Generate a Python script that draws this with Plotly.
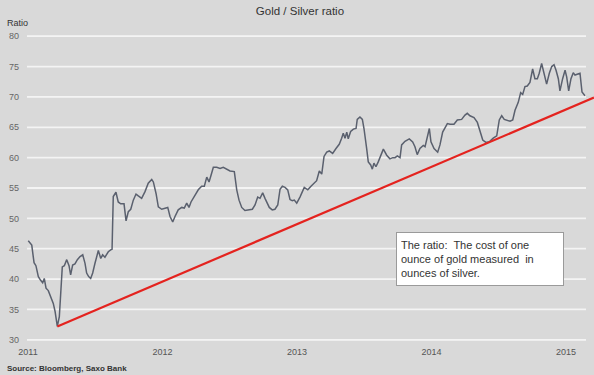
import plotly.graph_objects as go

# Gold / Silver ratio (decimal year, ratio)
years = [
    2011.002, 2011.028, 2011.039, 2011.045, 2011.059, 2011.077, 2011.094, 2011.109, 2011.121, 2011.134,
    2011.151, 2011.169, 2011.188, 2011.201, 2011.218, 2011.233, 2011.255, 2011.270, 2011.288, 2011.305,
    2011.317, 2011.332, 2011.349, 2011.367, 2011.387, 2011.407, 2011.424, 2011.436, 2011.451, 2011.466,
    2011.481, 2011.498, 2011.523, 2011.541, 2011.555, 2011.572, 2011.597, 2011.615, 2011.625, 2011.634,
    2011.654, 2011.671, 2011.689, 2011.714, 2011.729, 2011.746, 2011.764, 2011.783, 2011.803, 2011.820,
    2011.845, 2011.870, 2011.894, 2011.920, 2011.932, 2011.952, 2011.969, 2011.994,
    2012.019, 2012.039, 2012.056, 2012.076, 2012.093, 2012.117, 2012.143, 2012.162, 2012.180, 2012.197,
    2012.212, 2012.236, 2012.266, 2012.291, 2012.311, 2012.329, 2012.346, 2012.361, 2012.378, 2012.403,
    2012.428, 2012.452, 2012.477, 2012.502, 2012.534, 2012.552, 2012.569, 2012.589, 2012.613, 2012.638,
    2012.668, 2012.688, 2012.708, 2012.725, 2012.745, 2012.762, 2012.775, 2012.794, 2012.816, 2012.836,
    2012.857, 2012.874, 2012.891, 2012.911, 2012.931, 2012.948, 2012.965, 2012.980, 2012.998,
    2013.022, 2013.054, 2013.080, 2013.104, 2013.129, 2013.146, 2013.166, 2013.184, 2013.201, 2013.221,
    2013.240, 2013.265, 2013.290, 2013.314, 2013.332, 2013.344, 2013.357, 2013.370, 2013.381, 2013.399,
    2013.419, 2013.439, 2013.448, 2013.468, 2013.486, 2013.498, 2013.518, 2013.530, 2013.548, 2013.560,
    2013.572, 2013.587, 2013.604, 2013.622, 2013.642, 2013.667, 2013.691, 2013.712, 2013.729, 2013.746,
    2013.766, 2013.778, 2013.803, 2013.835, 2013.860, 2013.877, 2013.894, 2013.914, 2013.939, 2013.952,
    2013.969, 2013.984, 2013.996,
    2014.019, 2014.046, 2014.063, 2014.083, 2014.100, 2014.118, 2014.138, 2014.167, 2014.192, 2014.224,
    2014.249, 2014.266, 2014.286, 2014.316, 2014.341, 2014.361, 2014.381, 2014.405, 2014.430, 2014.459,
    2014.485, 2014.504, 2014.522, 2014.541, 2014.564, 2014.584, 2014.604, 2014.621, 2014.645, 2014.663,
    2014.678, 2014.695, 2014.712, 2014.732, 2014.752, 2014.769, 2014.787, 2014.801, 2014.819, 2014.836,
    2014.856, 2014.876, 2014.894, 2014.911, 2014.926, 2014.943, 2014.955, 2014.975, 2014.993,
    2015.005, 2015.020, 2015.037, 2015.054, 2015.067, 2015.084, 2015.104, 2015.119, 2015.141,
]
ratio = [
    46.3, 45.6, 43.7, 42.7, 42.2, 40.4, 39.8, 39.4, 40.1, 38.5,
    38.1, 37.1, 36.0, 34.7, 32.2, 33.8, 42.0, 42.2, 43.2, 42.2,
    40.7, 42.3, 42.5, 43.2, 43.7, 44.0, 42.6, 41.0, 40.4, 40.1,
    41.0, 42.6, 44.7, 43.4, 44.0, 43.6, 44.5, 44.8, 44.9, 53.6,
    54.3, 52.7, 52.4, 52.4, 49.6, 51.1, 51.5, 53.0, 54.0, 53.7,
    53.3, 54.4, 55.8, 56.4, 56.0, 54.1, 51.9, 51.5,
    51.7, 51.8, 50.3, 49.4, 50.3, 51.4, 51.8, 51.7, 52.5, 51.8,
    52.7, 53.7, 54.7, 55.3, 55.3, 56.8, 56.0, 57.1, 58.4, 58.4,
    58.2, 58.4, 58.1, 57.8, 57.7, 54.7, 53.0, 51.8, 51.3, 51.4,
    51.5, 52.2, 53.5, 53.3, 54.2, 53.3, 52.7, 51.8, 51.4, 51.5,
    52.2, 54.8, 55.3, 55.1, 54.7, 53.1, 52.9, 53.0, 52.5,
    53.5, 55.1, 54.7, 55.3, 55.9, 56.2, 57.8, 57.3, 60.2, 60.9,
    61.1, 60.7, 61.5, 62.2, 63.2, 64.0, 63.2, 64.2, 63.1, 64.3,
    64.7, 64.8, 66.3, 66.7, 66.3, 64.8, 61.5, 59.3, 58.8, 58.1,
    59.1, 58.5, 59.3, 60.4, 61.4, 60.4, 59.8, 60.0, 60.0, 60.3,
    60.0, 62.1, 62.7, 63.1, 62.6, 61.8, 60.5, 61.5, 62.0, 61.8,
    63.7, 64.8, 62.6,
    61.5, 60.9, 62.1, 64.2, 64.8, 65.6, 65.5, 65.5, 66.2, 66.3,
    67.0, 67.3, 66.9, 66.6, 65.8, 64.2, 62.9, 62.5, 62.6, 63.2,
    63.6, 66.2, 66.9, 66.3, 66.2, 66.0, 66.2, 67.8, 69.1, 70.7,
    70.4, 71.7, 71.8, 72.4, 74.6, 73.0, 73.0, 73.9, 75.5, 73.9,
    72.1, 73.9, 75.0, 75.3, 74.4, 73.0, 71.0, 73.0, 74.4,
    73.3, 71.0, 73.0, 74.0, 73.6, 73.7, 73.9, 70.8, 70.2,
]

# Red support line
trend_years = [2011.218, 2015.208]
trend_ratio = [32.2, 69.9]

year_ticks = [2011, 2012, 2013, 2014, 2015]
year_labels = ["2011", "2012", "2013", "2014", "2015"]
ratio_ticks = [30, 35, 40, 45, 50, 55, 60, 65, 70, 75, 80]

BG = "#d9d9d9"
FONT = "Liberation Sans"

fig = go.Figure()
fig.add_trace(go.Scatter(
    x=years, y=ratio, mode="lines",
    line=dict(color="#5a606e", width=1.5), hoverinfo="skip", showlegend=False,
))
fig.add_trace(go.Scatter(
    x=trend_years, y=trend_ratio, mode="lines",
    line=dict(color="#e4231f", width=2.2), hoverinfo="skip", showlegend=False,
))

grid_end = (586 - 27) / 567
for v in ratio_ticks:
    fig.add_shape(type="line", xref="paper", yref="y", x0=0, x1=grid_end, y0=v, y1=v,
                  line=dict(color="#f4f4f4", width=1.8), layer="below")

fig.update_layout(
    width=594, height=375,
    margin=dict(l=27, r=0, t=35, b=34),
    paper_bgcolor=BG, plot_bgcolor=BG,
    font=dict(family=FONT, color="#555555", size=9),
    title=dict(text="Gold / Silver ratio", x=0.505, xanchor="center", y=0.972, yanchor="middle",
               font=dict(family=FONT, size=11.5, color="#333333")),
    xaxis=dict(range=[2010.9926, 2015.2082], tickvals=year_ticks, ticktext=year_labels,
               showgrid=False, zeroline=False, showline=False, ticks="",
               ticklabelstandoff=4, tickfont=dict(size=9, color="#555555")),
    yaxis=dict(range=[29.8, 80.2], tickvals=ratio_ticks, showgrid=False, zeroline=False,
               showline=False, ticks="", ticklabelstandoff=7,
               tickfont=dict(size=9, color="#666666")),
    annotations=[
        dict(text="Ratio", xref="paper", yref="paper", x=-22/567, y=(375 - 23 - 34) / 306,
             xanchor="left", yanchor="middle", showarrow=False,
             font=dict(family=FONT, size=9, color="#333333")),
        dict(text="<b>Source: Bloomberg, Saxo Bank</b>", xref="paper", yref="paper",
             x=-22/567, y=(375 - 368 - 34) / 306, xanchor="left", yanchor="middle",
             showarrow=False, font=dict(family=FONT, size=8, color="#333333")),
        dict(text="The ratio:\u00a0 The cost of one<br>ounce of gold measured\u00a0 in<br>ounces of silver.",
             xref="paper", yref="paper", x=(396 - 27) / 567, y=(375 - 232 - 34) / 306,
             xanchor="left", yanchor="top", showarrow=False, align="left",
             width=158, height=44, borderpad=4,
             bgcolor="#ffffff", bordercolor="#9a9a9a", borderwidth=1,
             font=dict(family=FONT, size=11, color="#333333")),
    ],
)

fig.write_html(
    "out.html",
    config={"displayModeBar": False},
    post_script="document.body.style.margin='0';document.body.style.overflow='hidden';",
)
